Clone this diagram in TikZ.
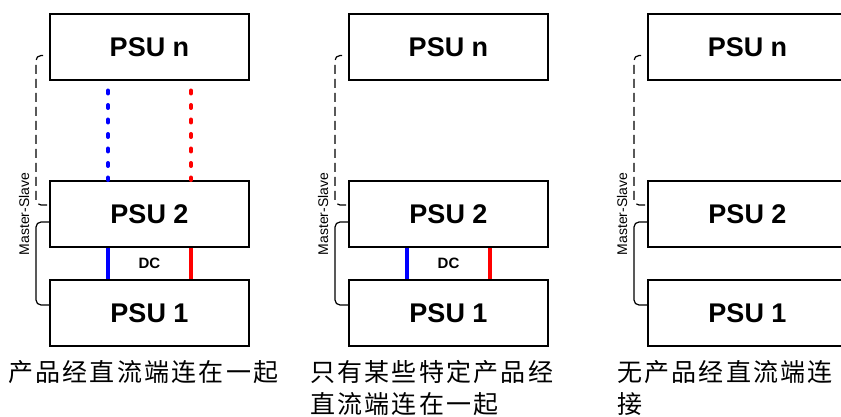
\documentclass[tikz,border=0pt]{standalone}
\usepackage{fontspec}
\setmainfont{Liberation Sans}
\newfontfamily\cjkfont[LetterSpace=9]{Noto Sans CJK SC}
\usepackage{tikz}
\usetikzlibrary{calc}

\tikzset{
  psu/.style={draw, line width=2pt, fill=white, inner sep=0pt,
    minimum width=199pt, minimum height=66pt,
    font=\fontsize{27}{30}\selectfont\bfseries},
  dcwire/.style={line width=4pt},
  dcdots/.style={line width=4pt, line cap=round, dash pattern=on 3pt off 11.5pt},
  msbus/.style={line width=1.2pt, rounded corners=5pt},
  mslabel/.style={rotate=90, inner sep=0pt, font=\fontsize{14}{15}\selectfont},
  dclabel/.style={inner sep=0pt, font=\fontsize{15}{17}\selectfont\bfseries},
  caption/.style={anchor=base west, align=left, inner sep=0pt,
    font=\cjkfont\fontsize{25}{32.5}\selectfont},
}

\begin{document}
\begin{tikzpicture}[x=1pt, y=-1pt]
\useasboundingbox (0,0) rectangle (841,417);
\clip (0,0) rectangle (841,417);

% the three stacks with their master-slave bus
\foreach \p/\xx in {a/149.5, b/448.5, c/747.5} {
  \node[psu] (\p n) at (\xx,47.5) {PSU n};
  \node[psu] (\p 2) at (\xx,214) {PSU 2};
  \node[psu] (\p 1) at (\xx,313) {PSU 1};
  \draw[msbus, dashed, dash pattern=on 9pt off 5pt]
    ($(\p n.west)+(-6,8)$) -| ($(\p 2.west)+(-13,-9)$) -- ($(\p 2.west)+(0,-9)$);
  \draw[msbus] ($(\p 2.west)+(0,8)$) -| ($(\p 1.west)+(-13,-8)$) -- ($(\p 1.west)+(0,-8)$);
  \node[mslabel] (\p ms) at ($(\p 2.west)+(-25,0)$) {Master-Slave};
}

% DC wires, first stack
\draw[dcdots, blue] ($(an.south)+(-41.5,9)$) -- ($(a2.north)+(-41.5,0)$);
\draw[dcdots, red] ($(an.south)+(41.5,9)$) -- ($(a2.north)+(41.5,0)$);
\draw[dcwire, blue] ($(a2.south)+(-41.5,0)$) -- ($(a1.north)+(-41.5,0)$);
\draw[dcwire, red] ($(a2.south)+(41.5,0)$) -- ($(a1.north)+(41.5,0)$);
\node[dclabel] (adc) at ($(a2.south)!0.5!(a1.north)$) {DC};

% DC wires, second stack
\draw[dcwire, blue] ($(b2.south)+(-41.5,0)$) -- ($(b1.north)+(-41.5,0)$);
\draw[dcwire, red] ($(b2.south)+(41.5,0)$) -- ($(b1.north)+(41.5,0)$);
\node[dclabel] (bdc) at ($(b2.south)!0.5!(b1.north)$) {DC};

% captions (base is the last line)
\node[caption] (acap) at (8,381) {产品经直流端连在一起};
\node[caption] (bcap) at (310,413.5) {只有某些特定产品经\\直流端连在一起};
\node[caption] (ccap) at (617,413.5) {无产品经直流端连\\接};
\end{tikzpicture}
\end{document}
